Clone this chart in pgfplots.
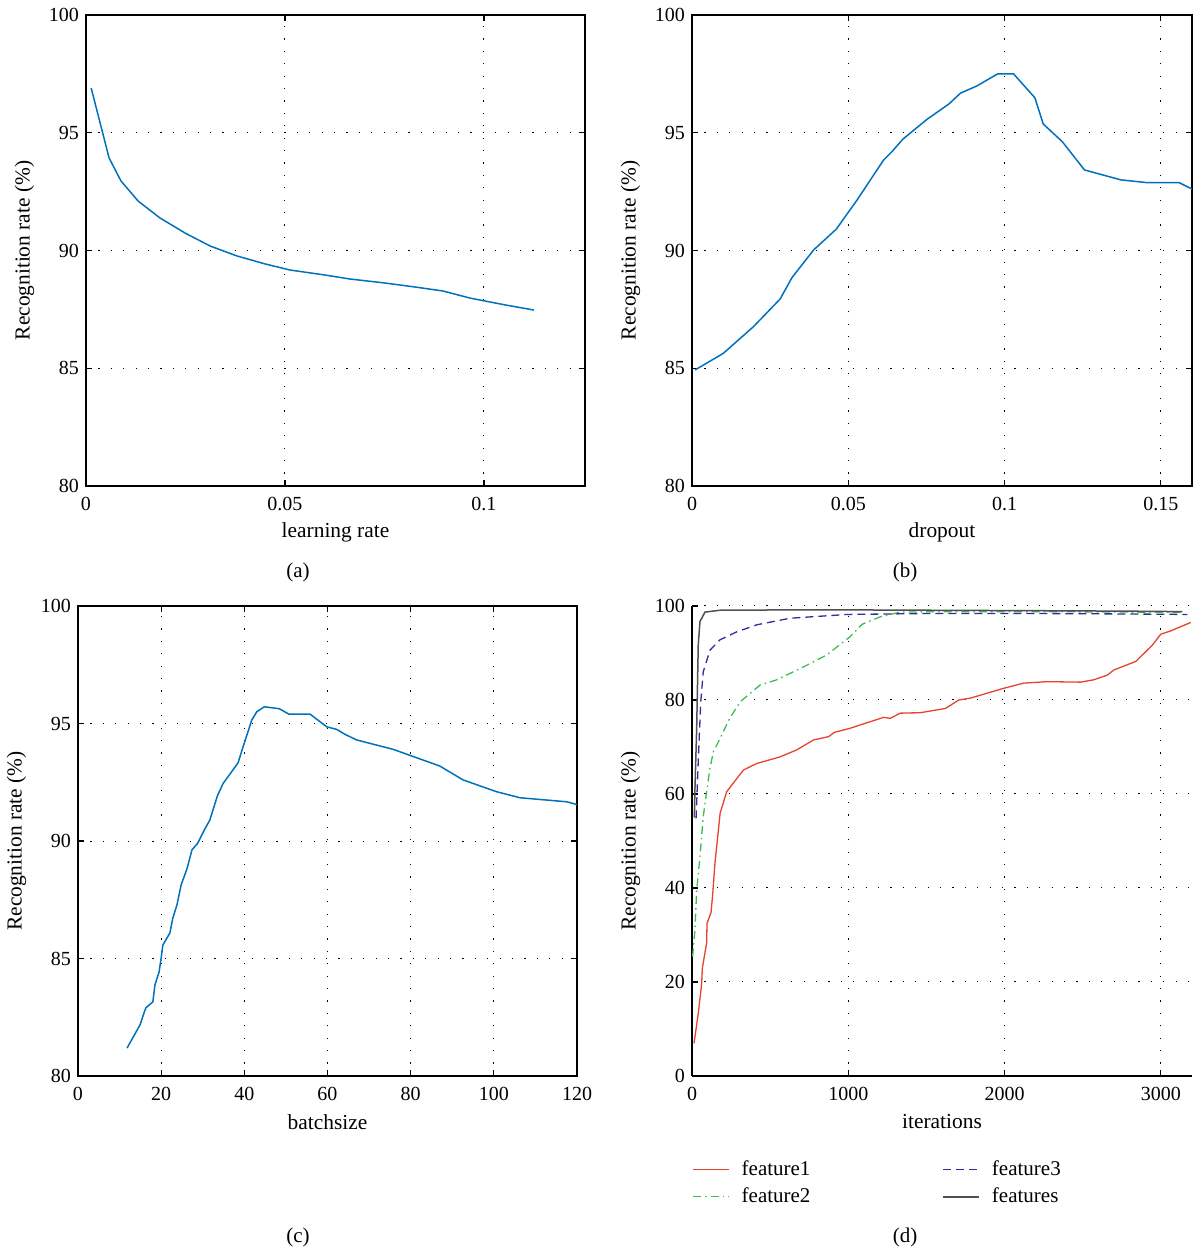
\documentclass[border=0pt]{standalone}
\usepackage{fontspec}
\setmainfont{Liberation Serif}
\usepackage{pgfplots}
\pgfplotsset{compat=1.18}
\definecolor{mblue}{HTML}{0072BD}
\definecolor{fred}{HTML}{E8412C}
\definecolor{fgreen}{HTML}{3DBE4C}
\definecolor{fblue}{HTML}{2E2E9E}
\definecolor{fgray}{HTML}{505050}
\pgfplotsset{
  common/.style={
    scale only axis,
    tick align=inside,
    grid=major,
    major grid style={black, line width=0.5pt, dash pattern=on 0.6pt off 5.6pt},
    axis line style={line width=0.6pt, black},
    tick style={black, line width=0.6pt},
    major tick length=3pt,
    tick label style={font=\fontsize{10}{12}\selectfont},
    xticklabel style={yshift=-2pt},
    label style={font=\fontsize{10.7}{12}\selectfont},
    /pgf/number format/assume math mode=true,
    /pgf/number format/1000 sep={},
    ylabel={Recognition rate (\%)},
    ylabel style={at={(axis description cs:-0.123,0.5)}, anchor=center},
    xlabel style={at={(axis description cs:0.5,-0.0975)}, anchor=center},
  },
  bl/.style={mblue, line width=0.75pt},
}
\begin{document}
\begin{tikzpicture}
\useasboundingbox (0pt,0pt) rectangle (599.5pt,625pt);

% (a)
\begin{axis}[common, at={(43pt,382pt)}, anchor=south west,
  width=249.5pt, height=235.5pt,
  xmin=0, xmax=0.1254, ymin=80, ymax=100,
  xtick={0,0.05,0.1}, xticklabels={0,0.05,0.1},
  ytick={80,85,90,95,100},
  xlabel={learning rate}]
\addplot[bl] coordinates {
(0.0013,96.9) (0.0058,93.93) (0.0088,92.95) (0.0131,92.1) (0.0186,91.38)
(0.0249,90.74) (0.0312,90.19) (0.0379,89.77) (0.045,89.43) (0.0513,89.17)
(0.06,88.96) (0.0663,88.79) (0.0751,88.62) (0.0827,88.45) (0.0897,88.28)
(0.0965,87.98) (0.1053,87.69) (0.1126,87.47)};
\end{axis}

% (b)
\begin{axis}[common, at={(346pt,382pt)}, anchor=south west,
  width=250pt, height=235.5pt,
  xmin=0, xmax=0.16, ymin=80, ymax=100,
  xtick={0,0.05,0.1,0.15}, xticklabels={0,0.05,0.1,0.15},
  ytick={80,85,90,95,100},
  xlabel={dropout}]
\addplot[bl] coordinates {
(0.001,84.93) (0.01,85.63) (0.0197,86.77) (0.0282,87.94) (0.032,88.85)
(0.0389,90.02) (0.0462,90.91) (0.0528,92.14) (0.0613,93.84) (0.064,94.2)
(0.0675,94.73) (0.0752,95.57) (0.0822,96.22) (0.0859,96.68) (0.0912,96.99)
(0.0978,97.5) (0.1029,97.5) (0.1097,96.49) (0.1124,95.37) (0.1185,94.62)
(0.1256,93.42) (0.1372,93.0) (0.1457,92.88) (0.1559,92.88) (0.16,92.61)};
\end{axis}

% (c)
\begin{axis}[common, at={(39pt,87pt)}, anchor=south west,
  width=249.5pt, height=235pt,
  xmin=0, xmax=120, ymin=80, ymax=100,
  xtick={0,20,...,120},
  ytick={80,85,90,95,100},
  xlabel={batchsize}]
\addplot[bl] coordinates {
(11.8,81.19) (14.9,82.17) (16.3,82.9) (18.0,83.15) (18.5,83.87) (19.5,84.43)
(20.0,85.02) (20.4,85.57) (22.1,86.09) (22.8,86.72) (23.8,87.28) (24.8,88.13)
(26.2,88.81) (27.4,89.62) (28.8,89.91) (30.5,90.51) (31.7,90.89) (33.5,91.91)
(34.9,92.45) (36.1,92.74) (38.5,93.33) (39.7,94.01) (41.8,95.15) (43.0,95.5)
(44.8,95.71) (48.4,95.63) (50.7,95.40) (55.8,95.40) (59.8,94.86) (62.2,94.75)
(64.2,94.54) (67.0,94.30) (75.8,93.90) (87.0,93.19) (92.6,92.6) (100.6,92.1)
(106.3,91.84) (117.5,91.67) (120,91.55)};
\end{axis}

% (d)
\begin{axis}[common, at={(346pt,87pt)}, anchor=south west,
  width=250pt, height=235pt,
  axis x line*=bottom, axis y line*=left,
  xmin=0, xmax=3200, ymin=0, ymax=100,
  xtick={0,1000,2000,3000},
  ytick={0,20,...,100},
  xlabel={iterations},
  legend image code/.code={\draw[#1] (0pt,0pt) -- (18pt,0pt);},
  legend style={at={(axis description cs:0.0,-0.17)}, anchor=north west,
    draw=none, fill=none, inner sep=0pt,
    font=\fontsize{10.5}{12}\selectfont,
    nodes={inner sep=2pt, text height=7.5pt, text depth=2pt},
    /tikz/every odd column/.append style={column sep=4pt},
    /tikz/every even column/.append style={column sep=64pt},
    legend columns=2, transpose legend},
  legend cell align=left]
\addplot[fred, line width=0.65pt] coordinates {
(13,6.95) (40,13.3) (62,19.7) (66,22.9) (94,28.4) (96,32.5) (122,34.8)
(133,38.9) (147,45.3) (180,55.9) (222,60.5) (329,65.1) (415,66.5) (564,67.9)
(671,69.4) (778,71.5) (874,72.2) (910,73.1) (1013,74.0) (1226,76.3)
(1269,76.1) (1333,77.2) (1462,77.3) (1622,78.2) (1707,80.0) (1782,80.4)
(1996,82.5) (2124,83.6) (2274,83.9) (2487,83.8) (2572,84.3) (2658,85.3)
(2701,86.4) (2840,88.2) (2947,91.7) (3000,94.0) (3064,94.7) (3192,96.5)};
\addlegendentry{feature1}
\addplot[fgreen, line width=0.65pt, dash pattern=on 4pt off 2pt on 0.8pt off 2pt] coordinates {
(4,25.4) (19,31.1) (30,39.6) (51,46.7) (72,55.2) (94,60.5) (115,65.5)
(137,69.0) (179,71.8) (240,76.0) (308,79.6) (436,83.2) (543,84.3) (735,87.4)
(863,89.6) (1013,93.5) (1088,96.1) (1205,97.7) (1333,98.7) (1600,98.8)
(2200,98.8) (2800,98.7) (3150,98.7)};
\addlegendentry{feature2}
\addplot[fblue, line width=0.65pt, dash pattern=on 4pt off 2.5pt] coordinates {
(26,54.8) (40,66.9) (56,79.6) (72,86.0) (115,90.6) (179,92.8) (286,94.5)
(415,96.0) (628,97.4) (992,98.2) (1500,98.4) (2200,98.4) (2800,98.3) (3171,98.2)};
\addlegendentry{feature3}
\addplot[fgray, line width=0.75pt] coordinates {
(15,55) (19,61.2) (30,74.0) (40,91.7) (51,96.7) (83,98.7) (179,99.1)
(800,99.2) (1500,99.1) (2200,99.0) (2800,98.9) (3139,98.8)};
\addlegendentry{features}
\end{axis}

\node[font=\fontsize{10.5}{12}\selectfont] at (149pt,339pt) {(a)};
\node[font=\fontsize{10.5}{12}\selectfont] at (452.5pt,339pt) {(b)};
\node[font=\fontsize{10.5}{12}\selectfont] at (149pt,6.5pt) {(c)};
\node[font=\fontsize{10.5}{12}\selectfont] at (452.5pt,6.5pt) {(d)};
\end{tikzpicture}
\end{document}
